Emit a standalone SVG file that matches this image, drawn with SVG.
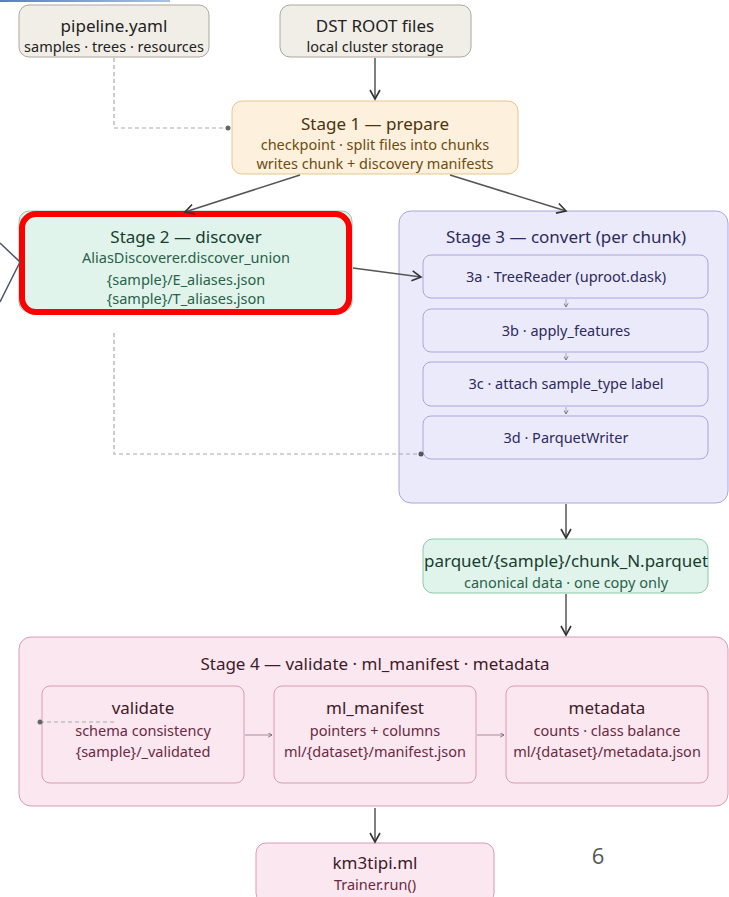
<svg xmlns="http://www.w3.org/2000/svg" width="729" height="897" viewBox="0 0 729 897">
  <defs>
    <marker id="arr" viewBox="0 0 12 12" refX="10" refY="6" markerWidth="12" markerHeight="12" markerUnits="userSpaceOnUse" orient="auto">
      <path d="M1,1 L10,6 L1,11" fill="none" stroke="#333" stroke-width="1.6"/>
    </marker>
    <marker id="arrSmall" viewBox="0 0 6 6" refX="5" refY="3" markerWidth="5" markerHeight="5" markerUnits="userSpaceOnUse" orient="auto">
      <path d="M0.5,0.5 L5,3 L0.5,5.5" fill="none" stroke="#666" stroke-width="1"/>
    </marker>
    <linearGradient id="topbar" x1="0" x2="1" y1="0" y2="0">
      <stop offset="0" stop-color="#5b7fc4"/>
      <stop offset="1" stop-color="#aac0e6"/>
    </linearGradient>
    <style>
      text { font-family: "Noto Sans", "Open Sans", "DejaVu Sans", sans-serif; text-anchor: middle; }
      .t { font-size: 17px; }
      .s { font-size: 14.5px; }
      .src rect { fill: #f1eee7; stroke: #aca89c; stroke-width: 1; }
      .src text { fill: #222; }
      .s1 rect { fill: #fdf0dc; stroke: #e6c78e; stroke-width: 1; }
      .s1 .t { fill: #4a3310; }
      .s1 .s { fill: #6e4c10; }
      .grn rect { fill: #e0f4ec; stroke: #8ccaa9; stroke-width: 1; }
      .grn .t { fill: #173d2e; }
      .grn .s { fill: #2a6249; }
      .pur rect { fill: #ebeafb; stroke: #aaa4de; stroke-width: 1; }
      .pur text { fill: #2d2a5c; }
      .pink rect { fill: #fae7ef; stroke: #d89bb2; stroke-width: 1; }
      .pink .t { fill: #3f1a28; }
      .pink .s { fill: #6a2a42; }
      .edge { fill: none; stroke: #555; stroke-width: 1.5; }
      .dash { fill: none; stroke: #aaa; stroke-width: 1.2; stroke-dasharray: 4 3; }
      .inner { fill: none; stroke: #b08aa0; stroke-width: 1; }
      .step { fill: none; stroke: #999; stroke-width: 0.8; }
    </style>
  </defs>

  <rect width="729" height="897" fill="#ffffff"/>
  <rect x="0" y="0" width="170" height="2" fill="url(#topbar)"/>

  <g id="pipeline_yaml" class="src">
    <rect x="19" y="5" width="190" height="52" rx="10"/>
    <text class="t" x="114" y="32">pipeline.yaml</text>
    <text class="s" x="114" y="52">samples · trees · resources</text>
  </g>

  <g id="dst_root" class="src">
    <rect x="280" y="5" width="191" height="52" rx="10"/>
    <text class="t" x="375" y="32">DST ROOT files</text>
    <text class="s" x="375" y="52">local cluster storage</text>
  </g>

  <g id="stage1" class="s1">
    <rect x="232" y="101" width="286" height="73" rx="10"/>
    <text class="t" x="375" y="130">Stage 1 — prepare</text>
    <text class="s" x="375" y="150">checkpoint · split files into chunks</text>
    <text class="s" x="375" y="169">writes chunk + discovery manifests</text>
  </g>

  <g id="stage2" class="grn">
    <rect x="19" y="211" width="333" height="101" rx="10"/>
    <rect x="22" y="214" width="327" height="98" rx="14" style="fill:none;stroke:#ff0000;stroke-width:6"/>
    <text class="t" x="186" y="243">Stage 2 — discover</text>
    <text class="s" x="186" y="263">AliasDiscoverer.discover_union</text>
    <text class="s" x="186" y="285">{sample}/E_aliases.json</text>
    <text class="s" x="186" y="304">{sample}/T_aliases.json</text>
  </g>

  <g id="stage3" class="pur">
    <rect x="399" y="211" width="329" height="292" rx="12"/>
    <text class="t" x="566" y="243">Stage 3 — convert (per chunk)</text>
    <g id="step3a">
      <rect x="423" y="255" width="285" height="43" rx="8"/>
      <text class="s" x="566" y="282">3a · TreeReader (uproot.dask)</text>
    </g>
    <g id="step3b">
      <rect x="423" y="309" width="285" height="43" rx="8"/>
      <text class="s" x="566" y="336">3b · apply_features</text>
    </g>
    <g id="step3c">
      <rect x="423" y="362" width="285" height="44" rx="8"/>
      <text class="s" x="566" y="389">3c · attach sample_type label</text>
    </g>
    <g id="step3d">
      <rect x="423" y="416" width="285" height="43" rx="8"/>
      <text class="s" x="566" y="443">3d · ParquetWriter</text>
    </g>
    <path class="step" d="M566,299 V307" marker-end="url(#arrSmall)"/>
    <path class="step" d="M566,353 V360" marker-end="url(#arrSmall)"/>
    <path class="step" d="M566,407 V414" marker-end="url(#arrSmall)"/>
  </g>

  <g id="parquet" class="grn">
    <rect x="423" y="539" width="285" height="54" rx="10"/>
    <text x="566" y="567" style="font-size:17px;fill:#173d2e">parquet/{sample}/chunk_N.parquet</text>
    <text class="s" x="566" y="588">canonical data · one copy only</text>
  </g>

  <g id="stage4" class="pink">
    <rect x="19" y="637" width="709" height="169" rx="12"/>
    <text class="t" x="375" y="670">Stage 4 — validate · ml_manifest · metadata</text>
    <g id="validate">
      <rect x="42" y="686" width="202" height="97" rx="8"/>
      <text class="t" x="143" y="714">validate</text>
      <text class="s" x="143" y="736">schema consistency</text>
      <text class="s" x="143" y="757">{sample}/_validated</text>
    </g>
    <g id="ml_manifest">
      <rect x="274" y="686" width="202" height="97" rx="8"/>
      <text class="t" x="375" y="714">ml_manifest</text>
      <text class="s" x="375" y="736">pointers + columns</text>
      <text class="s" x="375" y="757">ml/{dataset}/manifest.json</text>
    </g>
    <g id="metadata">
      <rect x="506" y="686" width="202" height="97" rx="8"/>
      <text class="t" x="607" y="714">metadata</text>
      <text class="s" x="607" y="736">counts · class balance</text>
      <text class="s" x="607" y="757">ml/{dataset}/metadata.json</text>
    </g>
    <path class="inner" d="M245,735 H272" marker-end="url(#arrSmall)"/>
    <path class="inner" d="M477,735 H504" marker-end="url(#arrSmall)"/>
  </g>

  <g id="km3tipi" class="pink">
    <rect x="256" y="843" width="238" height="60" rx="10"/>
    <text class="t" x="375" y="869">km3tipi.ml</text>
    <text class="s" x="375" y="890">Trainer.run()</text>
  </g>

  <text x="598" y="864" style="font-size:22px;fill:#555;font-family:'Open Sans','Noto Sans',sans-serif">6</text>

  <!-- connectors, drawn over the nodes -->
  <g id="connectors">
    <path class="dash" d="M114,58 V128 H228"/>
    <circle cx="228" cy="128" r="2.5" fill="#666"/>
    <path class="edge" d="M375,58 V99" marker-end="url(#arr)"/>
    <path class="edge" d="M300,175 L185,212" marker-end="url(#arr)"/>
    <path class="edge" d="M450,175 L566,211" marker-end="url(#arr)"/>
    <path class="edge" d="M353,268 L421,277" marker-end="url(#arr)"/>
    <path class="dash" d="M114,333 V454 H421"/>
    <circle cx="421" cy="454" r="2.5" fill="#555"/>
    <path class="edge" d="M566,504 V538" marker-end="url(#arr)"/>
    <path class="edge" d="M566,594 V635" marker-end="url(#arr)"/>
    <path class="edge" d="M375,808 V842" marker-end="url(#arr)"/>
    <path class="dash" d="M40,722 H115"/>
    <circle cx="40" cy="722" r="2.5" fill="#666"/>
    <path d="M0,243 L20,262 L0,302" fill="none" stroke="#4a5568" stroke-width="1.5"/>
  </g>
</svg>
